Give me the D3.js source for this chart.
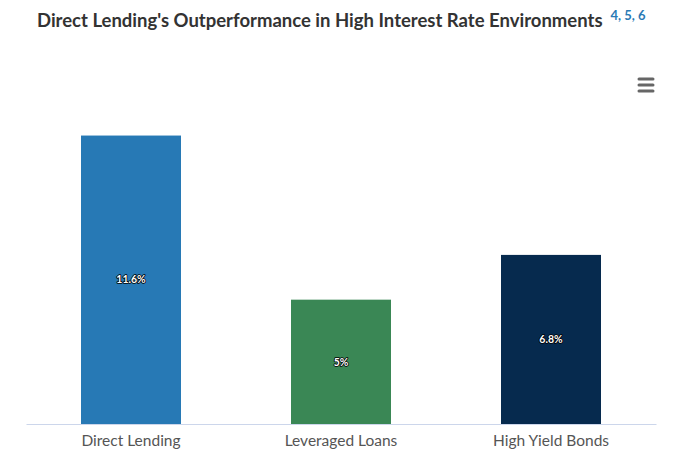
<!DOCTYPE html>
<html><head><meta charset="utf-8">
<script src="https://cdn.jsdelivr.net/npm/d3@7"></script>
<style>body{margin:0;background:#fff}svg{display:block;font-family:Lato,"Noto Sans",sans-serif}</style>
</head><body>
<svg id="c" width="675" height="460"></svg>
<script>
const categories = ["Direct Lending", "Leveraged Loans", "High Yield Bonds"];
const values = [11.6, 5, 6.8];
const labels = ["11.6%", "5%", "6.8%"];
const colors = ["#2779b5", "#3a8755", "#062a4e"];
const yDomain = [0, 12];

const svg = d3.select("#c");
const plot = {left: 26, right: 656, top: 125.6, bottom: 424};

const x = d3.scaleBand().domain(categories).range([plot.left, plot.right]).paddingInner(0.5238).paddingOuter(0.2619);
const y = d3.scaleLinear().domain(yDomain).range([plot.bottom, plot.top]);

// Title
const title = svg.append("text").attr("x", 37).attr("y", 27).attr("font-size", 18.5).attr("font-weight", "bold").attr("fill", "#333");
title.append("tspan").text("Direct Lending's Outperformance in High Interest Rate Environments");
title.append("tspan").attr("dx", 8).attr("dy", -7).attr("font-size", 13).attr("fill", "#2a7ab5").text("4, 5, 6");

// Bars
svg.selectAll("rect.bar").data(values).join("rect").attr("class", "bar")
  .attr("x", (d, i) => x(categories[i]))
  .attr("width", x.bandwidth())
  .attr("y", d => y(d))
  .attr("height", d => y(0) - y(d))
  .attr("fill", (d, i) => colors[i]);

// Axis
const ax = svg.append("g").attr("transform", `translate(0,${plot.bottom})`)
  .call(d3.axisBottom(x).tickSize(0).tickPadding(11));
ax.select(".domain").attr("stroke", "#ccd6eb").attr("stroke-width", 1);
ax.selectAll("text").attr("font-size", 15.5).attr("fill", "#555").attr("font-family", "Lato, sans-serif");

// Data labels
svg.selectAll("text.dl").data(values).join("text").attr("class", "dl")
  .attr("x", (d, i) => x(categories[i]) + x.bandwidth() / 2)
  .attr("y", d => (y(d) + y(0)) / 2)
  .attr("dy", "0.35em")
  .attr("text-anchor", "middle")
  .attr("font-size", 10.5).attr("font-weight", "bold")
  .attr("fill", "#fff").attr("stroke", "#000").attr("stroke-width", 1.6)
  .attr("stroke-linejoin", "round").attr("paint-order", "stroke")
  .text((d, i) => labels[i]);

// Menu icon
const menu = svg.append("g");
[79, 85, 91].forEach(yy => menu.append("line").attr("x1", 639).attr("x2", 653).attr("y1", yy).attr("y2", yy)
  .attr("stroke", "#666").attr("stroke-width", 3).attr("stroke-linecap", "round"));
</script>
</body></html>
